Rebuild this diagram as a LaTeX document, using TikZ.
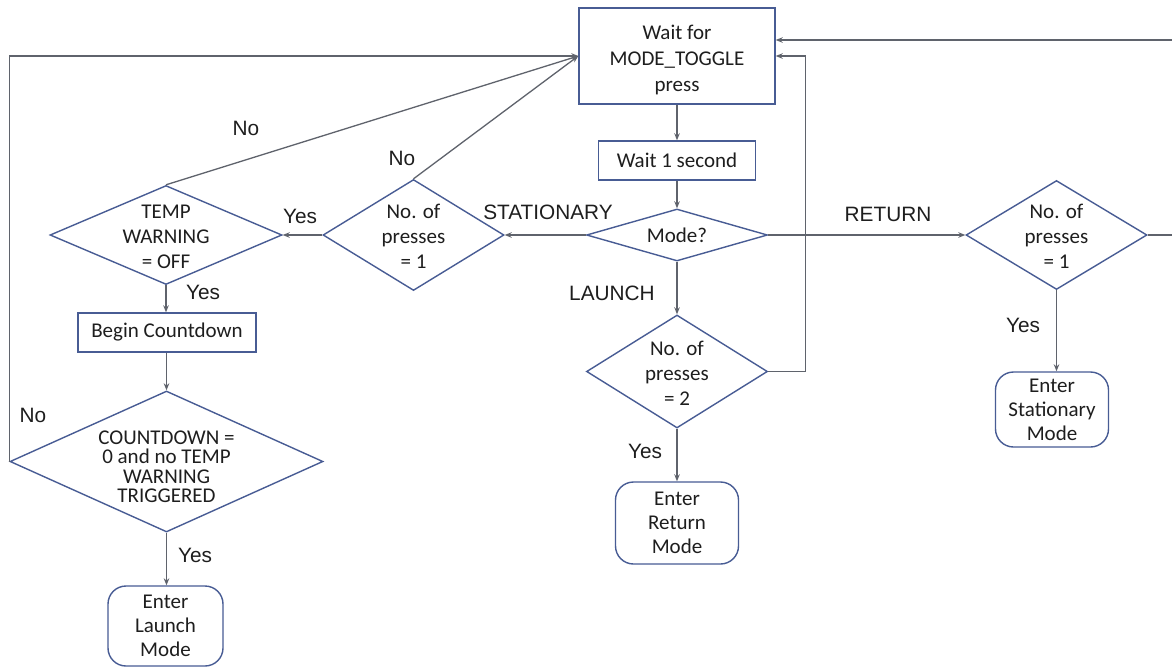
\documentclass[tikz,border=0pt]{standalone}
\usepackage{fontspec}
\setmainfont{Carlito}
\newfontfamily\labelfont{Liberation Sans}
\usetikzlibrary{shapes.geometric,arrows.meta}
\definecolor{outline}{RGB}{72,92,148}
\definecolor{wire}{RGB}{95,99,108}
\definecolor{ink}{RGB}{30,30,30}

\begin{document}
\begin{tikzpicture}[x=1pt,y=-1pt,
  box/.style={draw=outline,line width=1.4pt,rectangle,inner sep=0pt,align=center,
    text=ink,font=\fontsize{21}{26}\selectfont},
  decision/.style={draw=outline,line width=1.4pt,diamond,inner sep=0pt},
  dtext/.style={align=center,text=ink,inner sep=0pt,font=\fontsize{21}{25}\selectfont},
  tighttext/.style={dtext,font=\fontsize{21}{19.5}\selectfont},
  terminal/.style={draw=outline,line width=1.4pt,rounded corners=18pt,inner sep=0pt,
    align=center,text=ink,font=\fontsize{21}{24}\selectfont},
  flow/.style={draw=wire,line width=1.3pt,-{Stealth[length=7pt,width=5.5pt]}},
  tag/.style={font=\labelfont\fontsize{20.8}{24}\selectfont,text=ink,inner sep=0pt}
]
\clip (0,0) rectangle (1172,667);
\fill[white] (0,0) rectangle (1172,667);

% ---- main column
\node[box,minimum width=196pt,minimum height=96pt,
  label={[box,draw=none,yshift=-4pt]center:{Wait for\\MODE\_TOGGLE\\press}}] (wait) at (677,56) {};
\node[box,minimum width=157pt,minimum height=39pt] (sec) at (677,160.5) {Wait 1 second};
\node[decision,minimum width=181pt,minimum height=52pt,
  label={[dtext]center:Mode?}] (mode) at (677,235) {};
\node[decision,minimum width=181pt,minimum height=113pt,
  label={[dtext,yshift=-1.5pt]center:{No. of\\presses\\= 2}}] (two) at (677,371.5) {};
\node[terminal,minimum width=123pt,minimum height=82pt] (retmode) at (677,523)
  {Enter\\Return\\Mode};

% ---- stationary branch (left)
\node[decision,minimum width=181pt,minimum height=111pt,
  label={[dtext,yshift=-1.5pt]center:{No. of\\presses\\= 1}}] (one) at (413.5,235) {};
\node[decision,minimum width=232pt,minimum height=99pt,
  label={[dtext,yshift=-1.5pt]center:{TEMP\\WARNING\\= OFF}}] (temp) at (166,235) {};
\node[box,minimum width=178pt,minimum height=39pt] (begin) at (167,332.5) {Begin Countdown};
\node[decision,minimum width=313pt,minimum height=141pt,
  label={[tighttext,yshift=-5pt]center:{COUNTDOWN =\\0 and no TEMP\\WARNING\\TRIGGERED}}] (cd) at (166.5,461.5) {};
\node[terminal,minimum width=115pt,minimum height=80pt] (launchmode) at (165.5,626)
  {Enter\\Launch\\Mode};

% ---- return branch (right)
\node[decision,minimum width=181pt,minimum height=109pt,
  label={[dtext,yshift=-1.5pt]center:{No. of\\presses\\= 1}}] (ret) at (1056.5,235) {};
\node[terminal,minimum width=113pt,minimum height=75pt] (statmode) at (1052,409.5)
  {Enter\\Stationary\\Mode};

% ---- connectors
\draw[flow] (wait.south) -- (sec.north);
\draw[flow] (sec.south) -- (mode.north);
\draw[flow] (mode.west) -- (one.east);
\draw[flow] (mode.east) -- (ret.west);
\draw[flow] (mode.south) -- (two.north);
\draw[flow] (two.south) -- (retmode.north);
\draw[flow] (two.east) -| ([xshift=30pt]wait.east) -- (wait.east);
\draw[flow] (one.west) -- (temp.east);
\draw[flow] (one.north) -- (wait.west);
\draw[flow] (temp.north) -- (wait.west);
\draw[flow] (temp.south) -- (temp.south |- begin.north);
\draw[flow] (begin.south -| cd.north) -- (cd.north);
\draw[flow] (cd.west) -- (cd.west |- wait.west) -- (wait.west);
\draw[flow] (cd.south) -- (cd.south |- launchmode.north);
\draw[flow] (ret.south) -- (ret.south |- statmode.north);
\draw[flow] (ret.east) -- ++(40,0) |- ([yshift=16pt]wait.east);

% ---- branch labels
\node[tag] (lnotemp) at (246,128) {No};
\node[tag] (lnoone) at (402,158) {No};
\node[tag] (lyesone) at (300,216) {Yes};
\node[tag] (lstat) at (548,212) {STATIONARY};
\node[tag] (lret) at (888,214) {RETURN};
\node[tag] (llaunch) at (612,293) {LAUNCH};
\node[tag] (lyestemp) at (203,292) {Yes};
\node[tag] (lyesret) at (1023,325) {Yes};
\node[tag] (lnocd) at (33,415) {No};
\node[tag] (lyescd) at (195,555) {Yes};
\node[tag] (lyestwo) at (645,451) {Yes};
\end{tikzpicture}
\end{document}
